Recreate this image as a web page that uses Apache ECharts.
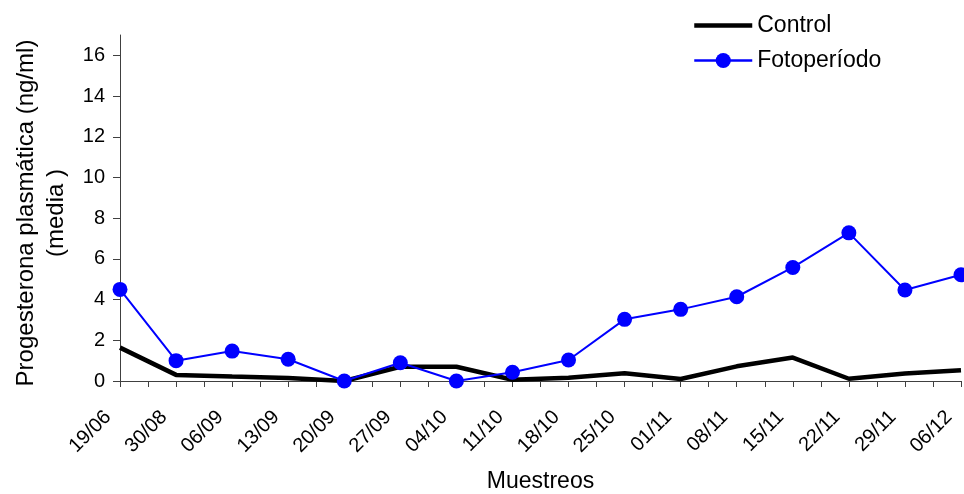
<!DOCTYPE html>
<html>
<head>
<meta charset="utf-8">
<script src="https://cdn.jsdelivr.net/npm/echarts@6/dist/echarts.min.js"></script>
<style>
html, body { margin: 0; padding: 0; background: #fff; }
#chart { width: 964px; height: 494px; }
</style>
</head>
<body>
<div id="chart"></div>
<script>
var categories = ['19/06','30/08','06/09','13/09','20/09','27/09','04/10','11/10',
                  '18/10','25/10','01/11','08/11','15/11','22/11','29/11','06/12'];
var controlValues = [1.64, 0.3, 0.22, 0.15, 0.0, 0.7, 0.7, 0.06,
                     0.16, 0.38, 0.1, 0.72, 1.15, 0.11, 0.37, 0.53];
var fotoperiodoValues = [4.5, 1.0, 1.47, 1.07, 0.0, 0.9, 0.0, 0.43,
                         1.03, 3.03, 3.52, 4.14, 5.58, 7.28, 4.47, 5.22];
var yTicks = [0, 2, 4, 6, 8, 10, 12, 14, 16];

(function setline(){
    var chart = echarts.init(document.getElementById('chart'));
    var font = 'Liberation Sans, Arial, sans-serif';
    var toPairs = function (arr) {
        return arr.map(function (v, i) { return [i, v]; });
    };
    var option = {
        animation: false,
        textStyle: { fontFamily: font },
        grid: { left: 120, right: 3, top: 35, bottom: 113, containLabel: false, outerBoundsMode: 'none' },
        legend: {
            orient: 'vertical',
            left: 687,
            top: 9,
            itemWidth: 58,
            itemHeight: 19,
            itemGap: 12,
            textStyle: { fontSize: 23, color: '#000', fontFamily: font },
            data: [
                { name: 'Control', itemStyle: { color: 'rgba(0,0,0,0)', borderWidth: 0 }, lineStyle: { width: 4.5 } },
                { name: 'Fotoperíodo', lineStyle: { width: 2.5 } }
            ]
        },
        xAxis: {
            type: 'value',
            min: 0,
            max: categories.length - 1,
            interval: 0.5,
            name: 'Muestreos',
            nameLocation: 'middle',
            nameGap: 89,
            nameTextStyle: { fontSize: 23, color: '#000', fontFamily: font },
            splitLine: { show: false },
            axisLine: { lineStyle: { color: '#404040', width: 1 } },
            axisTick: { show: true, inside: false, length: 6, lineStyle: { color: '#404040' } },
            axisLabel: {
                rotate: 45,
                margin: 21,
                padding: [0, 17, 0, 0],
                fontSize: 20,
                color: '#000',
                fontFamily: font,
                showMinLabel: true,
                showMaxLabel: true,
                formatter: function (v) {
                    return Number.isInteger(v) ? categories[v] : '';
                }
            }
        },
        yAxis: {
            type: 'value',
            min: 0,
            max: 17,
            interval: 2,
            name: 'Progesterona plasmática (ng/ml)\n(media )',
            nameLocation: 'middle',
            nameRotate: 90,
            nameGap: 49,
            nameTextStyle: { fontSize: 24, color: '#000', lineHeight: 30, fontFamily: font, padding: [0, 10, 0, 0] },
            splitLine: { show: false },
            axisLine: { show: true, lineStyle: { color: '#404040', width: 1 } },
            axisTick: { show: true, length: 7, customValues: yTicks, lineStyle: { color: '#404040' } },
            axisLabel: { fontSize: 20, color: '#000', margin: 15, fontFamily: font, customValues: yTicks }
        },
        series: [
            {
                name: 'Control',
                type: 'line',
                symbol: 'none',
                z: 2,
                lineStyle: { color: '#000', width: 4.5 },
                itemStyle: { color: '#000' },
                data: toPairs(controlValues)
            },
            {
                name: 'Fotoperíodo',
                type: 'line',
                symbol: 'circle',
                symbolSize: 15,
                z: 3,
                lineStyle: { color: '#0000FF', width: 2 },
                itemStyle: { color: '#0000FF' },
                data: toPairs(fotoperiodoValues)
            }
        ]
    };
    chart.setOption(option);
})();
</script>
</body>
</html>
